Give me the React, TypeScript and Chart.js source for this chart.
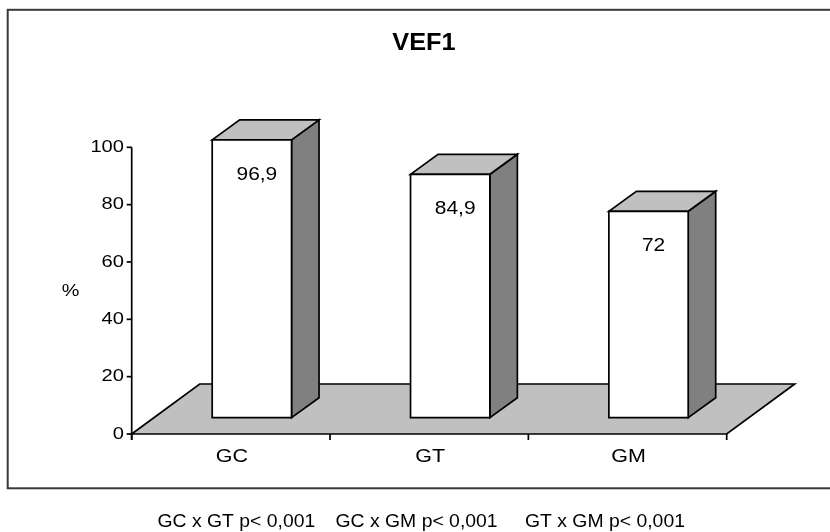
import React, { useEffect, useRef } from "react";
import { Chart, registerables } from "chart.js";

Chart.register(...registerables);

const categories = ["GC", "GT", "GM"];
const values = [96.9, 84.9, 72];
const valueLabels = ["96,9", "84,9", "72"];
const yTicks = [0, 20, 40, 60, 80, 100];
const yTickLabels = ["0", "20", "40", "60", "80", "100"];
const chartTitle = "VEF1";
const yTitle = "%";
const footnotes = ["GC x GT p< 0,001", "GC x GM p< 0,001", "GT x GM p< 0,001"];

const FONT = '"Liberation Sans", Arial, sans-serif';

function drawText(
  ctx: CanvasRenderingContext2D,
  s: string,
  x: number,
  y: number,
  font: string,
  align: CanvasTextAlign,
  sx: number,
  baseline: CanvasTextBaseline = "middle"
) {
  ctx.save();
  ctx.font = font;
  ctx.fillStyle = "#000";
  ctx.textAlign = align;
  ctx.textBaseline = baseline;
  ctx.translate(x, y);
  ctx.scale(sx, 1);
  ctx.fillText(s, 0, 0);
  ctx.restore();
}

function poly(ctx: CanvasRenderingContext2D, pts: number[][], fill: string) {
  ctx.beginPath();
  ctx.moveTo(pts[0][0], pts[0][1]);
  for (let i = 1; i < pts.length; i++) ctx.lineTo(pts[i][0], pts[i][1]);
  ctx.closePath();
  ctx.fillStyle = fill;
  ctx.fill();
  ctx.stroke();
}

const threeDPlugin = {
  id: "threeD",
  afterDraw(chart: any) {
    const ctx: CanvasRenderingContext2D = chart.ctx;
    const x = chart.scales.x;
    const y = chart.scales.y;
    const area = chart.chartArea;
    const L = area.left;
    const R = area.right;
    const y0 = y.getPixelForValue(0);

    ctx.save();
    // outer frame
    ctx.strokeStyle = "#3a3a3a";
    ctx.lineWidth = 2;
    ctx.strokeRect(7.7, 9.8, 900, 478.5);

    // title
    drawText(ctx, chartTitle, 424, 44, `bold 23px ${FONT}`, "center", 1.1);

    // floor
    const FDX = 68;
    const FDY = 50;
    ctx.strokeStyle = "#000";
    ctx.lineWidth = 1.7;
    ctx.lineJoin = "miter";
    poly(
      ctx,
      [
        [L, y0],
        [R, y0],
        [R + FDX, y0 - FDY],
        [L + FDX, y0 - FDY],
      ],
      "#c0c0c0"
    );

    // y axis
    ctx.beginPath();
    ctx.moveTo(L, y.getPixelForValue(100));
    ctx.lineTo(L, y0 + 6);
    ctx.stroke();
    yTicks.forEach((t, i) => {
      const py = y.getPixelForValue(t);
      ctx.beginPath();
      ctx.moveTo(L - 5, py);
      ctx.lineTo(L, py);
      ctx.stroke();
      drawText(ctx, yTickLabels[i], 124, py, `16.5px ${FONT}`, "right", 1.22);
    });
    drawText(ctx, yTitle, 70.5, 291.5, `16.5px ${FONT}`, "center", 1.2);

    // x axis ticks at category boundaries
    const cw = (R - L) / categories.length;
    for (let i = 0; i <= categories.length; i++) {
      const px = L + i * cw;
      ctx.beginPath();
      ctx.moveTo(px, y0);
      ctx.lineTo(px, y0 + 6);
      ctx.stroke();
    }
    categories.forEach((c, i) => {
      drawText(ctx, c, x.getPixelForValue(i) + 1, 457, `19px ${FONT}`, "center", 1.13);
    });

    // bars
    const FRONT_DX = 21;
    const FRONT_DY = 16.3;
    const BDX = 27.5;
    const BDY = 20;
    values.forEach((v, i) => {
      const cx = x.getPixelForValue(i);
      const bw = cw * 0.4;
      const fx0 = cx + FRONT_DX - bw / 2;
      const fx1 = fx0 + bw;
      const base = y0 - FRONT_DY;
      const top = base - (y0 - y.getPixelForValue(v));
      poly(
        ctx,
        [
          [fx1, top],
          [fx1 + BDX, top - BDY],
          [fx1 + BDX, base - BDY],
          [fx1, base],
        ],
        "#808080"
      );
      poly(
        ctx,
        [
          [fx0, top],
          [fx1, top],
          [fx1 + BDX, top - BDY],
          [fx0 + BDX, top - BDY],
        ],
        "#c0c0c0"
      );
      poly(
        ctx,
        [
          [fx0, top],
          [fx1, top],
          [fx1, base],
          [fx0, base],
        ],
        "#ffffff"
      );
      drawText(ctx, valueLabels[i], (fx0 + fx1) / 2 + 5, top + 35, `18.5px ${FONT}`, "center", 1.13);
    });

    // footnote
    const fx = [157.5, 335.5, 525];
    footnotes.forEach((s, i) => {
      drawText(ctx, s, fx[i], 527, `19px ${FONT}`, "left", 1.02, "alphabetic");
    });
    ctx.restore();
  },
};

export default function App() {
  const ref = useRef<HTMLCanvasElement | null>(null);
  useEffect(() => {
    if (!ref.current) return;
    const chart = new Chart(ref.current, {
      type: "bar",
      data: {
        labels: categories,
        datasets: [
          {
            data: values,
            backgroundColor: "rgba(0,0,0,0)",
            borderWidth: 0,
          },
        ],
      },
      options: {
        responsive: false,
        animation: false,
        devicePixelRatio: 1,
        layout: { padding: { left: 131.7, right: 103.3, top: 147.3, bottom: 98 } },
        plugins: { legend: { display: false }, tooltip: { enabled: false }, title: { display: false } },
        scales: {
          x: { display: false },
          y: { display: false, min: 0, max: 100, ticks: { stepSize: 20 } },
        },
      },
      plugins: [threeDPlugin],
    });
    return () => chart.destroy();
  }, []);
  return (
    <div style={{ position: "absolute", left: 0, top: 0, width: 830, height: 532, background: "#fff" }}>
      <canvas ref={ref} width={830} height={532} style={{ display: "block", width: 830, height: 532 }} />
    </div>
  );
}
